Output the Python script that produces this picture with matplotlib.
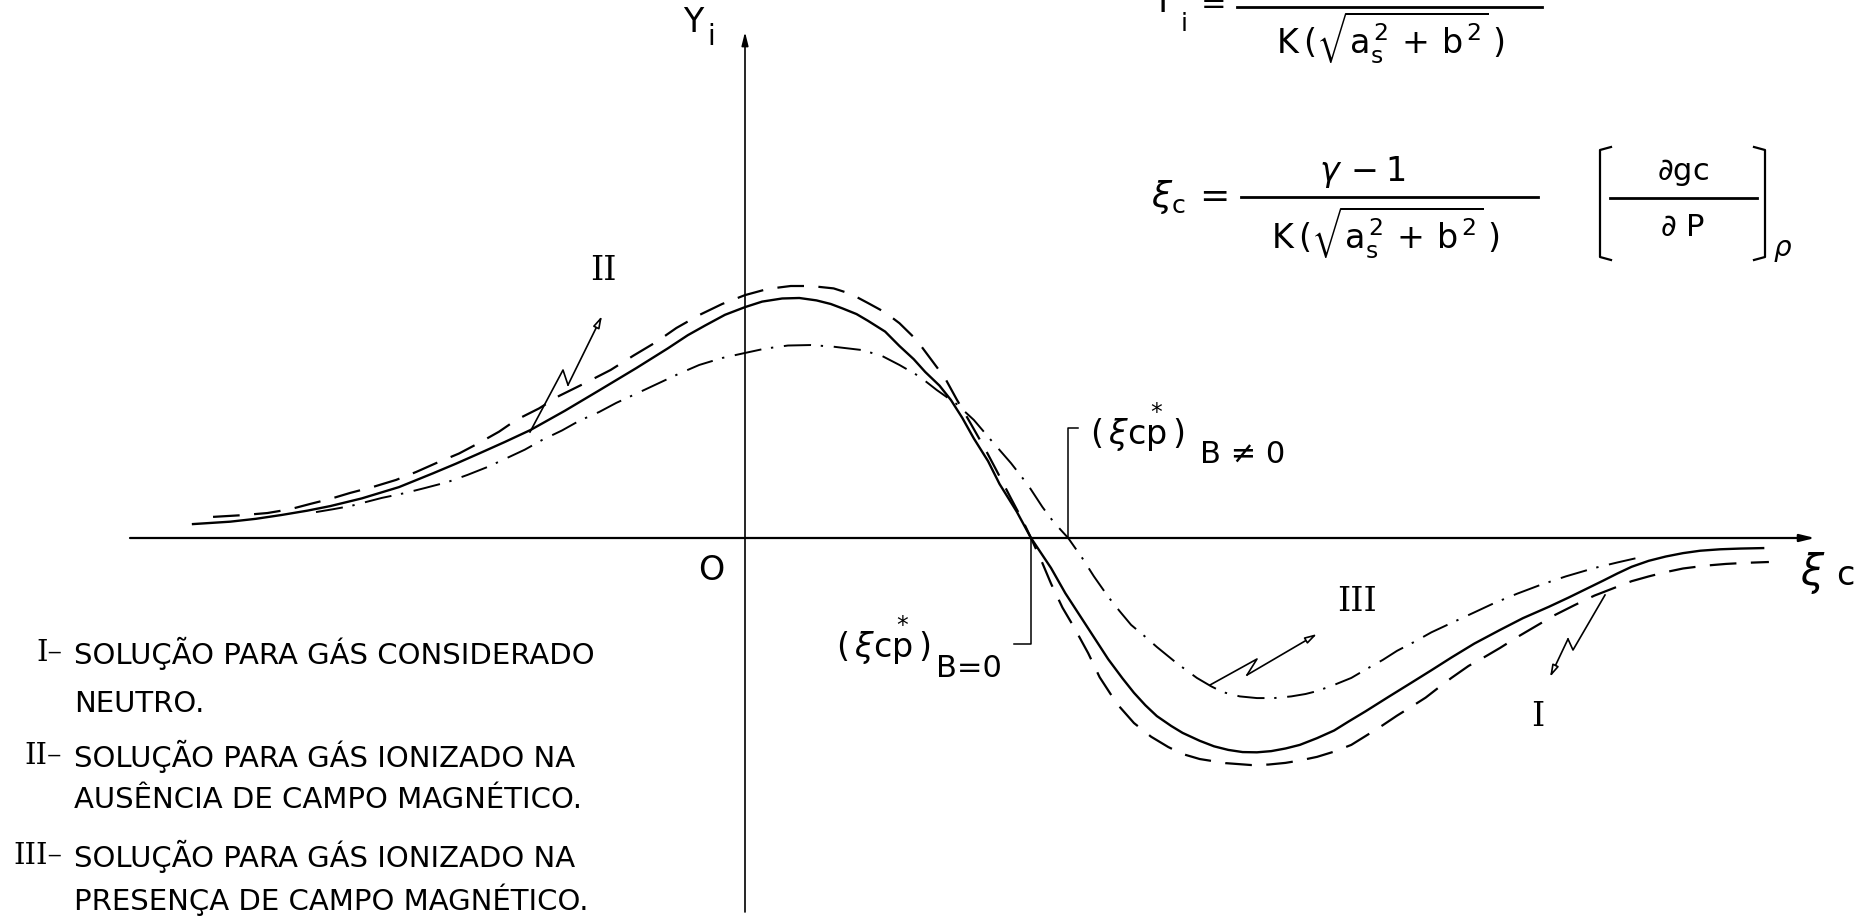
import matplotlib
matplotlib.use("Agg")
import matplotlib.pyplot as plt
from matplotlib.transforms import Affine2D

# Curve I - neutral gas (solid)
xi_I = [-1.93, -1.80, -1.71, -1.62, -1.53, -1.45, -1.34, -1.21, -1.09, -1.01, -0.93, -0.84,
        -0.75, -0.63, -0.51, -0.38, -0.27, -0.20, -0.14, -0.07, 0.00, 0.06, 0.13, 0.19,
        0.25, 0.30, 0.34, 0.39, 0.43, 0.49, 0.54, 0.59, 0.63, 0.68, 0.72, 0.76, 0.80,
        0.85, 0.89, 0.95, 1.00, 1.07, 1.12, 1.18, 1.27, 1.32, 1.36, 1.40, 1.44, 1.49,
        1.53, 1.59, 1.64, 1.69, 1.74, 1.79, 1.84, 1.89, 1.94, 2.00, 2.06, 2.11, 2.17,
        2.25, 2.33, 2.40, 2.47, 2.55, 2.64, 2.72, 2.81, 2.88, 2.94, 3.00, 3.05, 3.10,
        3.16, 3.22, 3.28, 3.34, 3.41, 3.48, 3.56]
y_I = [0.058, 0.068, 0.080, 0.096, 0.114, 0.133, 0.165, 0.212, 0.270, 0.310, 0.352, 0.400,
       0.450, 0.530, 0.615, 0.708, 0.790, 0.845, 0.885, 0.930, 0.962, 0.985, 0.998, 1.000,
       0.990, 0.975, 0.957, 0.933, 0.905, 0.860, 0.800, 0.745, 0.692, 0.635, 0.575, 0.500, 0.415,
       0.320, 0.225, 0.110, 0.000, -0.125, -0.230, -0.340, -0.505, -0.585, -0.645, -0.697, -0.742, -0.783,
       -0.812, -0.845, -0.868, -0.883, -0.892, -0.893, -0.888, -0.877, -0.862, -0.834, -0.802, -0.765, -0.722,
       -0.662, -0.603, -0.551, -0.498, -0.440, -0.383, -0.334, -0.287, -0.248, -0.213, -0.178, -0.148, -0.120,
       -0.095, -0.077, -0.063, -0.053, -0.047, -0.044, -0.042]

# Curve II - ionized gas, no magnetic field (dashed)
xi_II = [-1.86, -1.76, -1.67, -1.59, -1.52, -1.45, -1.38, -1.30, -1.22, -1.15, -1.08, -1.00,
         -0.93, -0.86, -0.80, -0.72, -0.65, -0.56, -0.47, -0.39, -0.31, -0.24, -0.16, -0.08,
         0.00, 0.08, 0.16, 0.23, 0.31, 0.37, 0.43, 0.49, 0.54, 0.60, 0.65, 0.70, 0.74,
         0.79, 0.84, 0.88, 0.93, 0.97, 1.00, 1.04, 1.07, 1.11, 1.15, 1.20, 1.24, 1.30,
         1.36, 1.42, 1.48, 1.53, 1.59, 1.68, 1.77, 1.83, 1.89, 1.94, 2.00, 2.06, 2.12,
         2.17, 2.23, 2.28, 2.33, 2.38, 2.42, 2.47, 2.53, 2.59, 2.64, 2.70, 2.76, 2.83,
         2.90, 2.97, 3.05, 3.10, 3.16, 3.22, 3.28, 3.36, 3.43, 3.51, 3.58]
y_II = [0.088, 0.095, 0.104, 0.120, 0.142, 0.163, 0.188, 0.213, 0.242, 0.275, 0.312, 0.352,
        0.396, 0.443, 0.492, 0.540, 0.592, 0.645, 0.700, 0.760, 0.817, 0.875, 0.929, 0.975,
        1.012, 1.038, 1.050, 1.050, 1.040, 1.017, 0.979, 0.940, 0.895, 0.825, 0.745, 0.665, 0.578,
        0.475, 0.370, 0.280, 0.165, 0.075, 0.000, -0.105, -0.190, -0.290, -0.371, -0.480, -0.580, -0.690,
        -0.771, -0.828, -0.871, -0.900, -0.921, -0.938, -0.946, -0.944, -0.937, -0.927, -0.912, -0.890, -0.862,
        -0.825, -0.780, -0.740, -0.703, -0.665, -0.628, -0.583, -0.533, -0.493, -0.458, -0.413, -0.371, -0.322,
        -0.280, -0.240, -0.203, -0.180, -0.160, -0.142, -0.127, -0.115, -0.108, -0.103, -0.100]

# Curve III - ionized gas with magnetic field (dash-dot)
xi_III = [-1.50, -1.44, -1.38, -1.27, -1.19, -1.12, -1.04, -0.97, -0.90, -0.84, -0.77, -0.71,
          -0.64, -0.58, -0.51, -0.45, -0.37, -0.30, -0.23, -0.16, -0.08, 0.00, 0.07, 0.15,
          0.23, 0.31, 0.41, 0.48, 0.54, 0.61, 0.67, 0.74, 0.80, 0.86, 0.93, 0.99, 1.04,
          1.08, 1.13, 1.18, 1.22, 1.27, 1.31, 1.35, 1.40, 1.44, 1.51, 1.58, 1.63, 1.67,
          1.73, 1.79, 1.85, 1.91, 1.96, 2.00, 2.06, 2.12, 2.17, 2.23, 2.28, 2.34, 2.40,
          2.47, 2.55, 2.62, 2.70, 2.78, 2.87, 2.97, 3.05, 3.12]
y_III = [0.108, 0.120, 0.133, 0.167, 0.187, 0.208, 0.233, 0.263, 0.296, 0.329, 0.368, 0.408,
         0.448, 0.488, 0.525, 0.563, 0.607, 0.646, 0.685, 0.721, 0.750, 0.771, 0.789, 0.802,
         0.804, 0.797, 0.783, 0.758, 0.721, 0.673, 0.617, 0.558, 0.492, 0.408, 0.312, 0.220, 0.129,
         0.065, 0.000, -0.085, -0.160, -0.245, -0.305, -0.362, -0.412, -0.454, -0.522, -0.583, -0.618, -0.642,
         -0.660, -0.667, -0.667, -0.660, -0.650, -0.638, -0.612, -0.583, -0.548, -0.508, -0.470, -0.433, -0.393,
         -0.354, -0.310, -0.271, -0.232, -0.196, -0.160, -0.125, -0.102, -0.083]

# zero crossings marked on the axis
xi_cp_B0 = 1.00
xi_cp_B = 1.13

legend_lines = [
    ("I–", "SOLUÇÃO PARA GÁS CONSIDERADO"),
    ("", "NEUTRO."),
    ("II–", "SOLUÇÃO PARA GÁS IONIZADO NA"),
    ("", "AUSÊNCIA DE CAMPO MAGNÉTICO."),
    ("III–", "SOLUÇÃO PARA GÁS IONIZADO NA"),
    ("", "PRESENÇA DE CAMPO MAGNÉTICO."),
]

# canvas in pixels, origin of the axes and unit lengths
W, H = 1862, 919
X0, Y0 = 745, 538
XU, YU = 286, 240

fig = plt.figure(figsize=(W / 100, H / 100), dpi=100)
ax = fig.add_axes([0, 0, 1, 1])
ax.axis("off")
# pixel coordinates measured from the top-left corner
pix = Affine2D().scale(1.0 / W, -1.0 / H).translate(0, 1) + fig.transFigure

# curves
ax.plot(xi_I, y_I, color="black", lw=1.7, solid_joinstyle="round")
ax.plot(xi_II, y_II, color="black", lw=1.6, linestyle=(0, (12, 6.5)))
ax.plot(xi_III, y_III, color="black", lw=1.4, linestyle=(0, (14, 5, 1.2, 5.5)))

# axes with arrow heads
ax.annotate("", xy=(1815, Y0), xytext=(130, Y0), xycoords=pix, textcoords=pix,
            arrowprops=dict(arrowstyle="-|>,head_length=0.9,head_width=0.22", lw=1.6,
                            color="black", shrinkA=0, shrinkB=0))
ax.annotate("", xy=(X0, 32), xytext=(X0, 912), xycoords=pix, textcoords=pix,
            arrowprops=dict(arrowstyle="-|>,head_length=0.8,head_width=0.2", lw=1.2,
                            color="black", shrinkA=0, shrinkB=0))

ax.text(693, 22, "Y", transform=pix, fontsize=24, ha="center", va="center")
ax.text(711, 37, "i", transform=pix, fontsize=20, ha="center", va="center")
ax.text(711, 570, "O", transform=pix, fontsize=24, ha="center", va="center")
ax.text(1813, 585, r"$\xi$", transform=pix, fontsize=30, ha="center", va="baseline")
ax.text(1845, 585, "c", transform=pix, fontsize=24, ha="center", va="baseline")

# brackets marking the zero crossings
ax.plot([xi_cp_B0, xi_cp_B0, xi_cp_B0 - 17 / XU], [0, -106 / YU, -106 / YU], color="black", lw=1.1)
ax.plot([xi_cp_B, xi_cp_B, xi_cp_B + 10 / XU], [0, 110 / YU, 110 / YU], color="black", lw=1.1)
ax.text(930, 658, r"$(\,\xi\mathrm{c}\overset{*}{\mathrm{p}}\,)$", transform=pix, fontsize=24,
        ha="right", va="baseline")
ax.text(936, 677, "B=0", transform=pix, fontsize=22, ha="left", va="baseline")
ax.text(1090, 445, r"$(\,\xi\mathrm{c}\overset{*}{\mathrm{p}}\,)$", transform=pix, fontsize=24,
        ha="left", va="baseline")
ax.text(1200, 463, "B ≠ 0", transform=pix, fontsize=22, ha="left", va="baseline")

# curve labels with lightning arrows
arrows = [
    [(530, 432), (563, 370), (568, 385), (602, 316)],
    [(1210, 685), (1257, 659), (1247, 675), (1317, 634)],
    [(1605, 595), (1573, 650), (1568, 639), (1550, 677)],
]
for pts in arrows:
    xs = [p[0] for p in pts[:-1]]
    ys = [p[1] for p in pts[:-1]]
    ax.plot(xs, ys, color="black", lw=1.2, transform=pix)
    ax.annotate("", xy=pts[-1], xytext=pts[-2], xycoords=pix, textcoords=pix,
                arrowprops=dict(arrowstyle="-|>,head_length=0.7,head_width=0.2", lw=1.2,
                                color="black", fc="white", shrinkA=0, shrinkB=0))

ax.text(603, 271, "II", transform=pix, fontsize=24, family="DejaVu Serif", ha="center", va="center")
ax.text(1357, 602, "III", transform=pix, fontsize=24, family="DejaVu Serif", ha="center", va="center")
ax.text(1538, 717, "I", transform=pix, fontsize=24, family="DejaVu Serif", ha="center", va="center")

# formulas, top right (the first one runs off the top edge)
ax.text(1162, 12, "Y", transform=pix, fontsize=24, ha="center", va="baseline")
ax.text(1184, 31, "i", transform=pix, fontsize=18, ha="center", va="baseline")
ax.text(1214, 5, "=", transform=pix, fontsize=22, ha="center", va="center")
ax.plot([1237, 1542], [7, 7], color="black", lw=2, transform=pix)
ax.text(1390, 38, r"$\mathrm{K}\,(\sqrt{\mathrm{a_s^{\,2}\,+\,b^{\,2}}}\,)$", transform=pix,
        fontsize=24, ha="center", va="center")

ax.text(1228, 197, r"$\xi_{\mathrm{c}}\,=$", transform=pix, fontsize=26, ha="right", va="center")
ax.text(1362, 172, r"$\gamma\,-\mathrm{1}$", transform=pix, fontsize=24, ha="center", va="center")
ax.plot([1241, 1538], [197, 197], color="black", lw=2, transform=pix)
ax.text(1385, 233, r"$\mathrm{K}\,(\sqrt{\mathrm{a_s^{\,2}\,+\,b^{\,2}}}\,)$", transform=pix,
        fontsize=24, ha="center", va="center")
ax.plot([1611, 1600, 1600, 1611], [147, 150, 257, 260], color="black", lw=1.6, transform=pix)
ax.plot([1754, 1765, 1765, 1754], [147, 150, 257, 260], color="black", lw=1.6, transform=pix)
ax.plot([1610, 1757], [198, 198], color="black", lw=2, transform=pix)
ax.text(1683, 172, r"$\partial\mathrm{gc}$", transform=pix, fontsize=22, ha="center", va="center")
ax.text(1683, 228, r"$\partial\ \mathrm{P}$", transform=pix, fontsize=22, ha="center", va="center")
ax.text(1783, 250, r"$\rho$", transform=pix, fontsize=20, ha="center", va="center")

# legend text, bottom left
rows_y = [653, 704, 756, 800, 856, 900]
for (num, txt), yy in zip(legend_lines, rows_y):
    if num:
        ax.text(62, yy, num, transform=pix, fontsize=21, family="DejaVu Serif",
                ha="right", va="center")
    ax.text(74, yy, txt, transform=pix, fontsize=21, ha="left", va="center")

ax.set_xlim(-X0 / XU, (W - X0) / XU)
ax.set_ylim((Y0 - H) / YU, Y0 / YU)

fig.savefig("out.png", dpi=100)
